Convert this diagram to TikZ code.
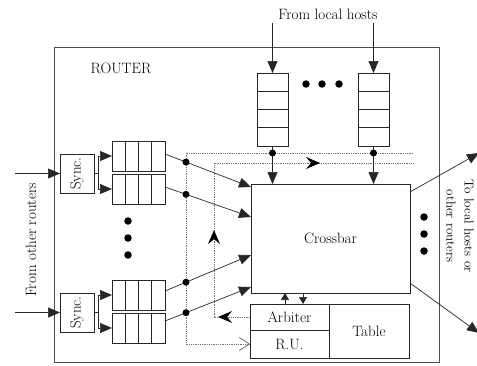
\documentclass[tikz,border=0pt]{standalone}
\usepackage{fontspec}
\usepackage{graphicx}
\usetikzlibrary{arrows.meta,positioning,calc,decorations.markings}

\begin{document}
\begin{tikzpicture}[x=1pt, y=-1pt,
  font=\fontsize{15}{18}\selectfont, line width=0.7pt, draw=black!85,
  >={Triangle[length=12pt, width=10pt]},
  box/.style={draw, inner sep=0pt, outer sep=0pt},
  qh/.style={box, minimum width=53pt, minimum height=30pt},
  qv/.style={box, minimum width=31pt, minimum height=73pt},
  syncbox/.style={box, minimum width=34pt, minimum height=39pt},
  bigdot/.style={circle, fill, inner sep=0pt, minimum size=7.5pt},
  jdot/.style={circle, fill, inner sep=0pt, minimum size=7pt},
  bus/.style={draw=black!55, densely dotted, line width=0.8pt},
  sm/.style={-{Triangle[length=7pt, width=8pt]}}]
\useasboundingbox (0,0) rectangle (477,365);
\node[box, draw=black!70, line width=0.9pt, minimum width=385pt, minimum height=315pt] (router) at (246.5,204.5) {};
\node (rlabel) at (121,68) {ROUTER};
\node (lh) at (328,14) {From local hosts};
% queues from local hosts
\node[qv] (tq1) at (272.5,109.5) {};
\node[qv] (tq2) at (373.5,109.5) {};
\foreach \x [count=\n] in {306,322,339} \node[bigdot] (hd\n) at (\x,84) {};
% crossbar and control
\node[box, minimum width=159pt, minimum height=109pt] (xbar) at (330.5,238.5) {Crossbar};
\node[box, minimum width=79pt, minimum height=26pt] (arb) at (289.5,317) {Arbiter};
\node[box, minimum width=79pt, minimum height=28pt, below=0pt of arb] (ru) {R.U.};
\node[box, minimum width=80pt, minimum height=54pt, anchor=north west] (tbl) at (arb.north east) {Table};
% inputs from other routers
\node[syncbox] (s1) at (77,173.5) {\rotatebox{90}{Sync.}};
\node[syncbox] (s2) at (77,312.5) {\rotatebox{90}{Sync.}};
\node[qh] (q1) at (138.5,156) {};
\node[qh] (q2) at (138.5,189) {};
\node[qh] (q3) at (138.5,295) {};
\node[qh] (q4) at (138.5,328) {};
\foreach \y [count=\n] in {221,238,255} \node[bigdot] (vd\n) at (128,\y) {};
\foreach \y [count=\n] in {217,234,251} \node[bigdot] (od\n) at (424,\y) {};
\foreach \q in {tq1,tq2} \foreach \i in {1,2,3}
  \draw ($(\q.north west)!\i/4!(\q.south west)$) -- ($(\q.north east)!\i/4!(\q.south east)$);
\foreach \q in {q1,q2,q3,q4} \foreach \i in {1,2,3}
  \draw ($(\q.north west)!\i/4!(\q.north east)$) -- ($(\q.south west)!\i/4!(\q.south east)$);
\node[rotate=90] (fr) at (31,240) {From other routers};
\node[rotate=-90, align=center, font=\fontsize{13}{18}\selectfont] (tl) at (460,226) {To local hosts or\\other routers};
\coordinate (in1) at (15,173.5); \coordinate (in2) at (15,312.5);
\coordinate (aend) at (413,153); \coordinate (ca) at (186,344);
\coordinate (bend) at (413,163); \coordinate (cb) at (214,163);
\coordinate (o1) at (479,153); \coordinate (o2) at (479,333);
% control buses
\draw[bus, -{Straight Barb[length=10pt, width=13pt]}] (aend) -| (ca) -- (ru.west);
\draw[bus, postaction=decorate, decoration={markings,
  mark=at position 0.082 with {\arrow[black, solid]{Stealth[length=14pt, width=12pt, inset=5pt]}},
  mark=at position 0.316 with {\arrow[black, solid]{Stealth[length=14pt, width=12pt, inset=5pt]}},
  mark=at position 0.761 with {\arrow[black, solid]{Stealth[length=14pt, width=12pt, inset=5pt]}}}]
  (arb.west) -| (cb) -- (bend);
% connections
\draw[->] (in1) -- (s1.west); \draw[->] (in2) -- (s2.west);
\foreach \s/\a/\b in {s1/q1/q2, s2/q3/q4} {
  \draw (\s.east) -- ++(4,0) coordinate (sp\s);
  \draw (sp\s |- \a.west) -- (sp\s |- \b.west);
  \draw[->] (sp\s |- \a.west) -- (\a.west);
  \draw[->] (sp\s |- \b.west) -- (\b.west);
}
\draw[->] ([yshift=2pt]q1.east) -- ($(xbar.north west)+(0,3)$) node[jdot, pos=0.244] (j1) {};
\draw[->] ([yshift=2pt]q2.east) -- ($(xbar.north west)+(0,33)$) node[jdot, pos=0.244] (j2) {};
\draw[->] ([yshift=4pt]q3.east) -- ($(xbar.north west)+(0,71)$) node[jdot, pos=0.244] (j3) {};
\draw[->] ([yshift=7pt]q4.east) -- ($(xbar.north west)+(0,103)$) node[jdot, pos=0.244] (j4) {};
\draw[->] (tq1.north |- lh.south) -- (tq1.north);
\draw[->] (tq2.north |- lh.south) -- (tq2.north);
\draw[->] (tq1.south) -- (tq1.south |- xbar.north);
\draw[->] (tq2.south) -- (tq2.south |- xbar.north);
\node[jdot] (tj1) at (tq1.south |- aend) {};
\node[jdot] (tj2) at (tq2.south |- aend) {};
\draw[->] ([yshift=-8pt]xbar.north east) -- (o1);
\draw[->] ([yshift=10pt]xbar.south east) -- (o2);
\draw[sm] ([xshift=-4.5pt]arb.north) -- ([xshift=-4.5pt]arb.north |- xbar.south);
\draw[sm] ([xshift=13.5pt]arb.north |- xbar.south) -- ([xshift=13.5pt]arb.north);
\end{tikzpicture}
\end{document}
